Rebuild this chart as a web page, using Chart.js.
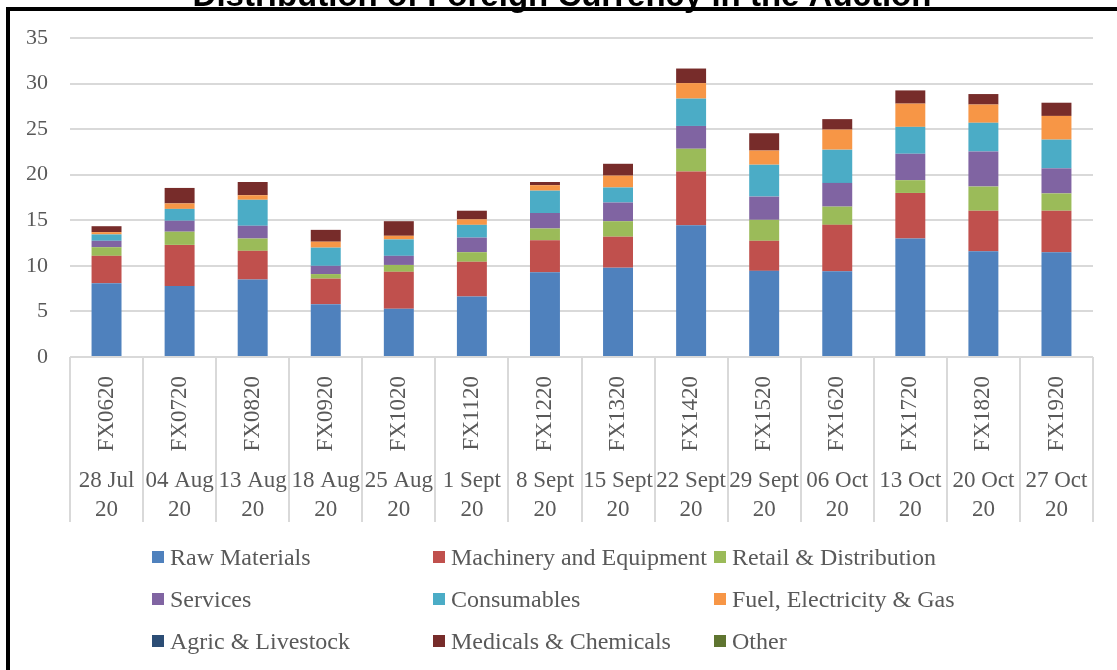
<!DOCTYPE html>
<html>
<head>
<meta charset="utf-8">
<script src="https://cdn.jsdelivr.net/npm/chart.js@4.4.0/dist/chart.umd.min.js"></script>
<style>
html, body { margin: 0; padding: 0; width: 1117px; height: 670px; overflow: hidden; background: #fff; }
#frame { position: absolute; left: 6px; top: 7px; width: 1200px; height: 700px; border-left: 4px solid #000; border-top: 4px solid #000; }
#chart { position: absolute; left: 0; top: -40px; }
#legend { position: absolute; left: 0; top: 0; width: 1117px; height: 670px; font-family: 'Liberation Serif'; font-size: 24px; color: #595959; pointer-events: none; }
.item { position: absolute; height: 28px; display: flex; align-items: center; white-space: nowrap; }
.box { width: 12px; height: 12px; margin-right: 6px; }
</style>
</head>
<body>
<div id="frame"></div>
<canvas id="chart" width="1117" height="710"></canvas>
<div id="legend"></div>
<script>
// カテゴリ
const categories = ['FX0620', 'FX0720', 'FX0820', 'FX0920', 'FX1020', 'FX1120', 'FX1220',
    'FX1320', 'FX1420', 'FX1520', 'FX1620', 'FX1720', 'FX1820', 'FX1920'];
const dates = [['28 Jul', '20'], ['04 Aug', '20'], ['13 Aug', '20'], ['18 Aug', '20'], ['25 Aug', '20'],
    ['1 Sept', '20'], ['8 Sept', '20'], ['15 Sept', '20'], ['22 Sept', '20'], ['29 Sept', '20'],
    ['06 Oct', '20'], ['13 Oct', '20'], ['20 Oct', '20'], ['27 Oct', '20']];

// 系列の値
const rawMaterials = [8.1, 7.8, 8.5, 5.8, 5.3, 6.65, 9.3, 9.8, 14.45, 9.45, 9.4, 13.0, 11.6, 11.5];
const machinery = [3.0, 4.5, 3.15, 2.8, 4.05, 3.8, 3.5, 3.4, 5.9, 3.3, 5.1, 5.0, 4.45, 4.55];
const retail = [0.95, 1.45, 1.35, 0.5, 0.75, 1.05, 1.3, 1.7, 2.5, 2.3, 2.0, 1.4, 2.65, 1.9];
const services = [0.7, 1.2, 1.4, 0.9, 1.0, 1.6, 1.7, 2.05, 2.5, 2.55, 2.6, 2.9, 3.85, 2.75];
const consumables = [0.7, 1.3, 2.85, 2.0, 1.8, 1.4, 2.45, 1.65, 3.0, 3.5, 3.65, 2.95, 3.15, 3.15];
const fuel = [0.25, 0.6, 0.5, 0.65, 0.4, 0.6, 0.6, 1.3, 1.7, 1.55, 2.2, 2.55, 2.0, 2.6];
const agric = [0, 0, 0, 0, 0, 0, 0, 0, 0, 0, 0, 0, 0, 0];
const medicals = [0.65, 1.7, 1.45, 1.3, 1.6, 0.95, 0.35, 1.3, 1.6, 1.9, 1.15, 1.45, 1.15, 1.45];
const other = [0, 0, 0, 0, 0, 0, 0, 0, 0, 0, 0, 0, 0, 0];

// 目盛り
const yTicks = [0, 5, 10, 15, 20, 25, 30, 35];

const titleText = 'Distribution of Foreign Currency in the Auction';
const seriesNames = ['Raw Materials', 'Machinery and Equipment', 'Retail & Distribution', 'Services',
    'Consumables', 'Fuel, Electricity & Gas', 'Agric & Livestock', 'Medicals & Chemicals', 'Other'];
const seriesData = [rawMaterials, machinery, retail, services, consumables, fuel, agric, medicals, other];
const seriesColors = ['#4f81bd', '#c0504d', '#9bbb59', '#8064a2', '#4bacc6', '#f79646', '#2c4d75', '#772c2a', '#5f7530'];

const labelFont = 'Liberation Serif';
const labelColor = '#595959';

// カテゴリの区切り線とタイトルを描く
const dividerPlugin = {
    id: 'dividers',
    afterDraw(chart) {
        const s = chart.scales.x;
        const s2 = chart.scales.x2;
        const c = chart.ctx;
        c.save();
        c.strokeStyle = '#d9d9d9';
        c.lineWidth = 2;
        for (let i = 0; i <= categories.length; i++) {
            const px = Math.round(s.getPixelForValue(i - 0.5));
            c.beginPath();
            c.moveTo(px, s.top);
            c.lineTo(px, s2.bottom);
            c.stroke();
        }
        // タイトル（上が切れている）
        c.fillStyle = '#000';
        c.font = 'bold 33px "Liberation Sans"';
        c.textAlign = 'center';
        c.textBaseline = 'alphabetic';
        c.fillText(titleText, 562, 46);
        c.restore();
    }
};

const chart = new Chart(document.getElementById('chart'), {
    type: 'bar',
    data: {
        labels: categories,
        datasets: seriesNames.map((name, i) => ({
            label: name,
            data: seriesData[i],
            backgroundColor: seriesColors[i],
            borderWidth: 0,
            categoryPercentage: 1,
            barPercentage: 0.41
        }))
    },
    options: {
        responsive: false,
        animation: false,
        devicePixelRatio: 1,
        layout: { padding: { left: 0, right: 24, top: 78, bottom: 148 } },
        plugins: {
            legend: { display: false },
            tooltip: { enabled: false }
        },
        scales: {
            x: {
                stacked: true,
                offset: true,
                grid: { display: false },
                border: { display: false },
                ticks: {
                    autoSkip: false, minRotation: 90, maxRotation: 90, padding: 11,
                    color: labelColor, font: { family: labelFont, size: 23 }
                },
                afterFit: s => { s.height = 96; }
            },
            x2: {
                type: 'category',
                labels: dates,
                position: 'bottom',
                offset: true,
                grid: { display: false },
                border: { display: false },
                ticks: {
                    autoSkip: false, minRotation: 0, maxRotation: 0, padding: 6,
                    color: labelColor, font: { family: labelFont, size: 23, lineHeight: 1.25 }
                },
                afterFit: s => { s.height = 69; }
            },
            y: {
                stacked: true,
                min: yTicks[0],
                max: yTicks[yTicks.length - 1],
                afterBuildTicks: s => { s.ticks = yTicks.map(v => ({ value: v })); },
                grid: { color: '#d9d9d9', lineWidth: 2, drawTicks: false },
                border: { display: false },
                ticks: { padding: 22, color: labelColor, font: { family: labelFont, size: 22 } },
                afterFit: s => { s.width = 70; }
            }
        }
    },
    plugins: [dividerPlugin]
});

// 凡例を3列で並べる
const legendCols = [152, 433, 714];
const legendEl = document.getElementById('legend');
chart.data.datasets.forEach((ds, i) => {
    const item = document.createElement('div');
    item.className = 'item';
    item.style.left = legendCols[i % 3] + 'px';
    item.style.top = (557 + Math.floor(i / 3) * 42 - 14) + 'px';
    item.innerHTML = `<span class="box" style="background:${ds.backgroundColor}"></span><span>${ds.label.replace(/&/g, '&amp;')}</span>`;
    legendEl.appendChild(item);
});
</script>
</body>
</html>
